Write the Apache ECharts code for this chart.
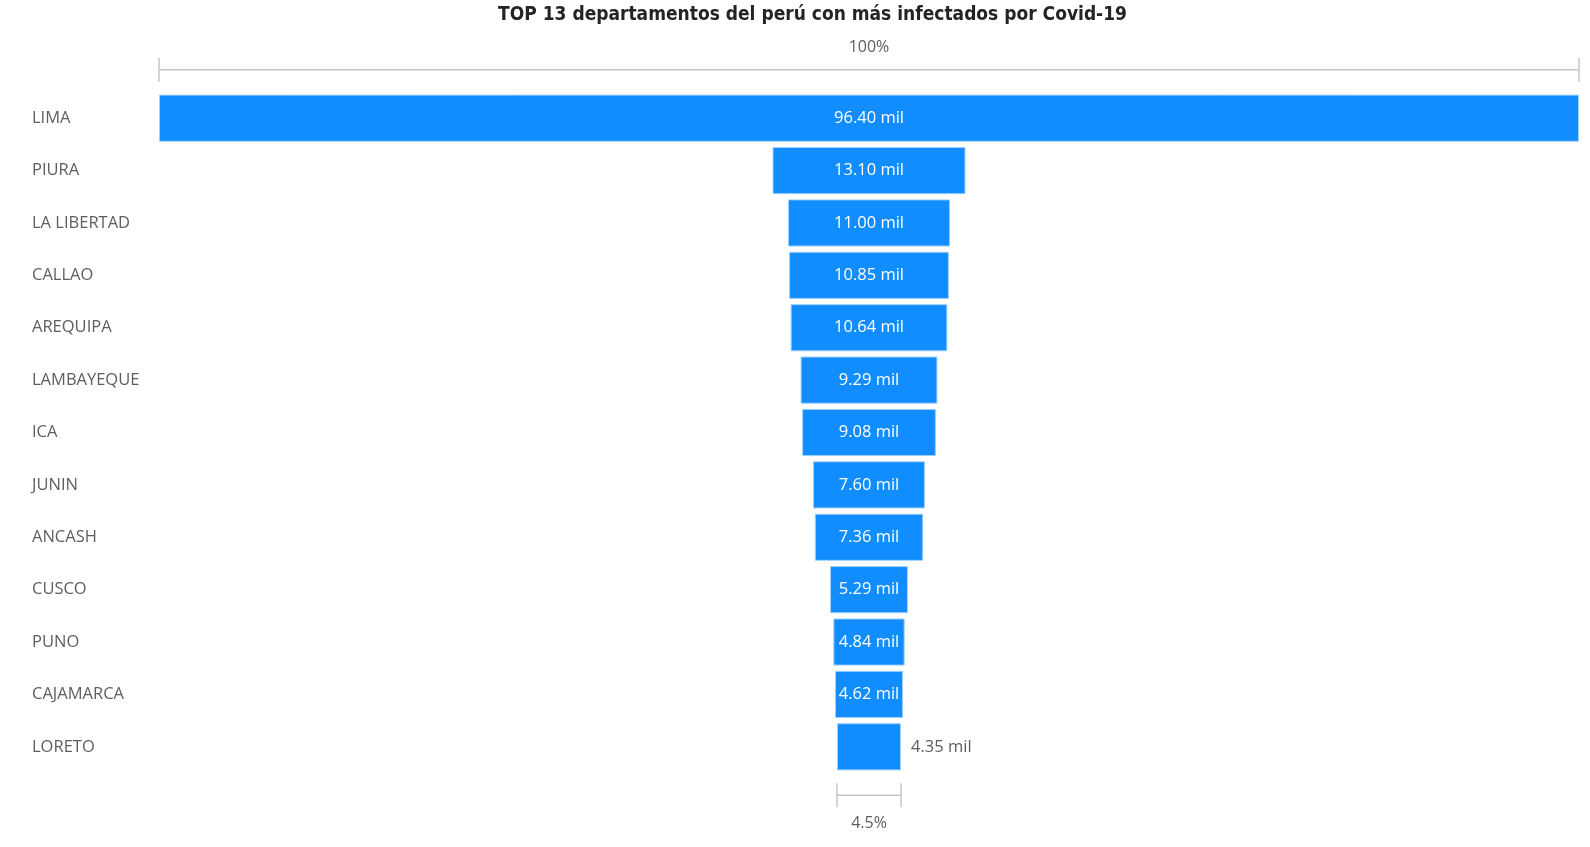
<!DOCTYPE html>
<html>
<head>
<meta charset="utf-8">
<script src="https://cdn.jsdelivr.net/npm/echarts@6/dist/echarts.min.js"></script>
<style>html,body{margin:0;padding:0;background:#fff}#c{width:1590px;height:847px}</style>
</head>
<body>
<div id="c"></div>
<script>
const categories = ['LIMA','PIURA','LA LIBERTAD','CALLAO','AREQUIPA','LAMBAYEQUE','ICA','JUNIN','ANCASH','CUSCO','PUNO','CAJAMARCA','LORETO'];
const values = [96.40, 13.10, 11.00, 10.85, 10.64, 9.29, 9.08, 7.60, 7.36, 5.29, 4.84, 4.62, 4.35];
const outsideLabels = ['LORETO'];

const maxV = Math.max(...values);
const offsets = values.map(v => (maxV - v) / 2);
const lastV = values[values.length - 1];
const brackets = [
  [0, maxV, 0, 1, '100%'],
  [(maxV - lastV) / 2, (maxV + lastV) / 2, categories.length - 1, -1, (lastV / maxV * 100).toFixed(1) + '%']
];

const chart = echarts.init(document.getElementById('c'));
const font = '"Open Sans", "Noto Sans", sans-serif';
chart.setOption({
  animation: false,
  title: {
    text: 'TOP 13 departamentos del perú con más infectados por Covid-19',
    left: 493, top: 1,
    textStyle: {fontFamily: '"DejaVu Sans Condensed", "DejaVu Sans", sans-serif', fontWeight: 'bold', fontSize: 19, color: '#252423'}
  },
  grid: {left: 159, right: 11, top: 92, bottom: 74},
  xAxis: {type: 'value', min: 0, max: maxV, show: false},
  yAxis: {
    type: 'category', data: categories, inverse: true,
    axisLine: {show: false}, axisTick: {show: false},
    axisLabel: {align: 'left', margin: 127, fontFamily: font, fontSize: 16.5, color: '#605E5C'}
  },
  series: [
    {type: 'bar', stack: 'f', data: offsets, itemStyle: {color: 'transparent'}, barCategoryGap: '10%', silent: true},
    {
      type: 'bar', stack: 'f', barCategoryGap: '10%',
      data: values.map((v, i) => ({
        value: v,
        label: outsideLabels.includes(categories[i]) ? {position: 'right', color: '#605E5C', distance: 10} : {}
      })),
      itemStyle: {color: '#118DFF', borderColor: '#9fd0ff', borderWidth: 1},
      label: {show: true, position: 'inside', color: '#FFFFFF', fontFamily: font, fontSize: 16.5,
        formatter: p => p.value.toFixed(2) + ' mil'}
    },
    {
      type: 'custom', data: brackets, clip: false, silent: true,
      renderItem: function (params, api) {
        const s = api.value(0), e = api.value(1), c = api.value(2), dir = api.value(3);
        const p1 = api.coord([s, c]), p2 = api.coord([e, c]);
        const h = api.size([0, 1])[1];
        const y = p1[1] - dir * h * 0.925;
        const ly = dir > 0 ? y - 22 : y + 28;
        const st = {stroke: '#C8C6C4', lineWidth: 1.5};
        return {type: 'group', children: [
          {type: 'line', shape: {x1: p1[0], y1: y, x2: p2[0], y2: y}, style: st},
          {type: 'line', shape: {x1: p1[0], y1: y - 12, x2: p1[0], y2: y + 12}, style: st},
          {type: 'line', shape: {x1: p2[0], y1: y - 12, x2: p2[0], y2: y + 12}, style: st},
          {type: 'text', style: {text: brackets[params.dataIndex][4], x: (p1[0] + p2[0]) / 2, y: ly,
            align: 'center', verticalAlign: 'middle', fill: '#605E5C', font: '16px ' + font}}
        ]};
      }
    }
  ]
});
</script>
</body>
</html>
